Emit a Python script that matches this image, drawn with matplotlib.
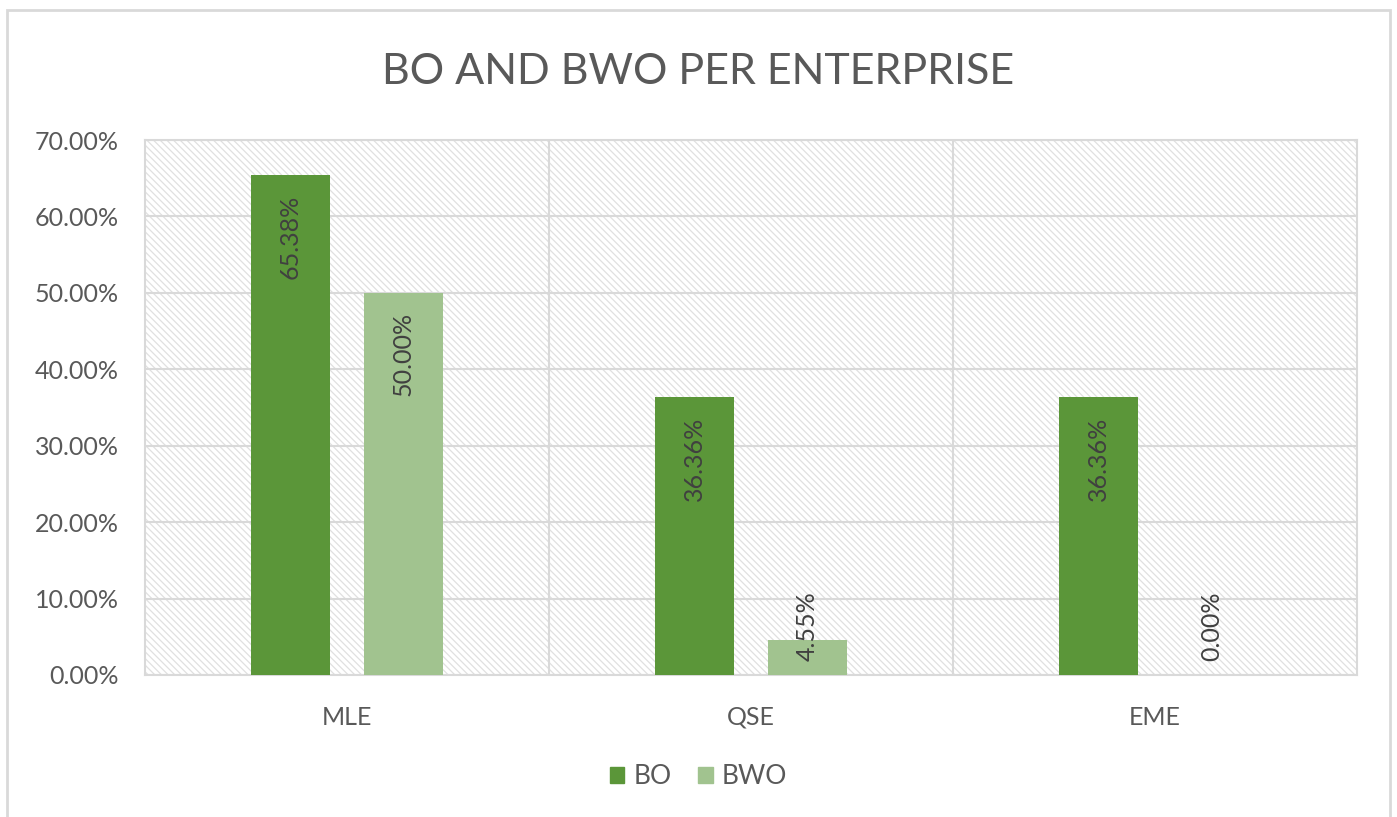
# Grafico de barras BO y BWO por tipo de empresa
import numpy as np
import matplotlib.pyplot as plt
from matplotlib.patches import Rectangle, Patch

empresas = ['MLE', 'QSE', 'EME']
bo = [65.38, 36.36, 36.36]
bwo = [50.00, 4.55, 0.00]
ticks_y = [0, 10, 20, 30, 40, 50, 60, 70]

plt.rcParams['font.family'] = ['Lato', 'DejaVu Sans']
plt.rcParams['hatch.linewidth'] = 0.9
plt.rcParams['hatch.color'] = '#e0e0e0'

gris = '#595959'
verde = '#5b9639'
verde_claro = '#a1c38f'

fig = plt.figure(figsize=(13.97, 8.17), dpi=100)
ax = fig.add_axes([145/1397, 1 - 675/817, 1212/1397, 535/817])

# marco del grafico
fig.patches.append(Rectangle((7/1397, -0.05), 1383/1397, 1.05 - 10/817,
                             transform=fig.transFigure, fill=False,
                             edgecolor='#d9d9d9', linewidth=2, zorder=0))

# fondo rayado del area de trazado
ax.add_patch(Rectangle((0, 0), 1, 1, transform=ax.transAxes, facecolor='white',
                       edgecolor='#e0e0e0', hatch='\\' * 5, linewidth=0, zorder=0))

x = np.arange(len(empresas))
ancho = 0.196
desp = 0.14
ax.bar(x - desp, bo, ancho, color=verde, zorder=3, label='BO')
ax.bar(x + desp, bwo, ancho, color=verde_claro, zorder=3, label='BWO')

# etiquetas de valor dentro de las barras
for xs, vals in [(x - desp, bo), (x + desp, bwo)]:
    for xi, v in zip(xs, vals):
        ax.annotate(f'{v:.2f}%', (xi, max(v, 13.5)), xytext=(0, -14),
                    textcoords='offset points', rotation=90, ha='center',
                    va='top', fontsize=18, color='#404040', zorder=4)

ax.set_xlim(-0.5, 2.5)
ax.set_ylim(0, 70)
ax.set_yticks(ticks_y)
ax.set_yticklabels([f'{t:.2f}%' for t in ticks_y])
ax.set_xticks(x)
ax.set_xticklabels(empresas)
ax.tick_params(axis='both', length=0, labelsize=18, labelcolor=gris)
ax.tick_params(axis='y', pad=19)
ax.tick_params(axis='x', pad=22)

for v in ticks_y:
    ax.axhline(v, color='#d9d9d9', linewidth=1.5, zorder=1)
for v in [0.5, 1.5]:
    ax.axvline(v, color='#d9d9d9', linewidth=1.5, zorder=1)
for s in ax.spines.values():
    s.set_color('#d9d9d9')
    s.set_linewidth(1.5)

fig.text(0.5, 1 - 72/817, 'BO AND BWO PER ENTERPRISE', ha='center', va='center',
         fontsize=31, color=gris)

fig.legend(handles=[Patch(color=verde, label='BO'), Patch(color=verde_claro, label='BWO')],
           loc='center', bbox_to_anchor=(0.5, 1 - 777/817), ncol=2, frameon=False,
           fontsize=19, labelcolor=gris, handlelength=0.55, handleheight=0.55,
           handletextpad=0.35, columnspacing=1.0)

fig.savefig('out.png', dpi=100)
